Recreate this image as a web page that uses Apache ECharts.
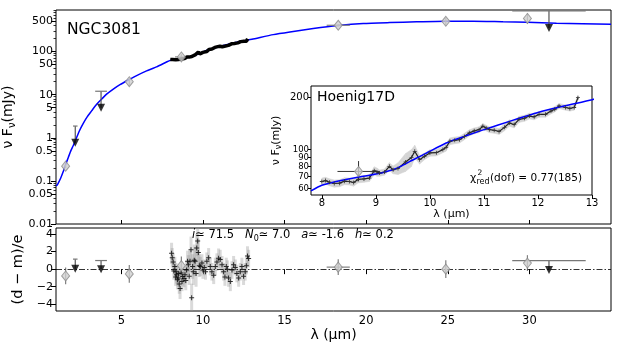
<!DOCTYPE html>
<html><head><meta charset="utf-8">
<script src="https://cdn.jsdelivr.net/npm/echarts@6/dist/echarts.min.js"></script>
<style>html,body{margin:0;padding:0;background:#fff}#c{width:623px;height:346px}</style>
</head><body><div id="c"></div>
<script>
const FONT = 'DejaVu Sans';

// ---- model SED (blue curve) ----
const modelX = [1.0, 1.07, 1.14, 1.29, 1.45, 1.59, 1.76, 1.90, 2.06, 2.22, 2.43, 2.67, 2.92, 3.18, 3.49, 3.80, 4.10, 4.51, 4.92, 5.43, 5.94, 6.55, 7.16, 7.8, 8.0, 8.4, 9.0, 9.2, 9.4, 9.52, 9.63, 9.82, 10.0, 10.3, 10.5, 11.0, 11.5, 12.0, 12.5, 13.0, 14.31, 15.33, 16.76, 18.29, 19.82, 21.45, 23.09, 24.88, 26.55, 28.39, 29.88, 31.66, 35.0];
const modelY = [0.077, 0.080, 0.089, 0.117, 0.167, 0.239, 0.355, 0.49, 0.66, 0.92, 1.44, 2.17, 3.1, 4.2, 6.0, 7.9, 10.3, 13.5, 17.1, 21.9, 27.7, 35.6, 44.2, 58, 62.5, 67, 72.5, 75, 78.5, 82, 85.7, 91.4, 97.8, 109, 115, 130, 146, 163, 178, 193, 247, 285, 341, 400, 446, 470, 490, 505, 505, 490, 480, 454, 428];

// ---- mid-IR spectrum ----
const specX = [8.00, 8.07, 8.14, 8.23, 8.33, 8.42, 8.51, 8.59, 8.67, 8.78, 8.88, 8.97, 9.02, 9.07, 9.16, 9.25, 9.32, 9.41, 9.55, 9.66, 9.72, 9.81, 9.90, 10.00, 10.12, 10.24, 10.30, 10.37, 10.46, 10.55, 10.64, 10.73, 10.82, 10.91, 10.98, 11.04, 11.10, 11.19, 11.28, 11.38, 11.47, 11.56, 11.65, 11.75, 11.84, 11.93, 12.02, 12.14, 12.24, 12.31, 12.39, 12.51, 12.59, 12.67, 12.74];
const specY = [65.7, 66.5, 65.1, 64.0, 64.3, 66.0, 65.7, 64.8, 67.5, 68.0, 68.7, 75.7, 74.5, 73.4, 74.4, 80.2, 76.7, 78, 85, 90, 97.8, 87.6, 91.5, 95.7, 96, 100, 103, 111.6, 113, 114, 119, 124.7, 128, 130, 136, 133, 130, 129, 127, 134, 142, 139, 149, 151, 155.5, 154, 159, 159, 166, 170, 177.6, 174, 172, 174, 198];
const specErr = [3, 3, 3, 3, 3, 3, 3, 3, 3, 3, 3, 4, 4, 3, 3, 4, 4, 6, 10, 10, 8, 5, 4, 4, 4, 4, 5, 5, 5, 5, 5, 5, 5, 5, 5, 5, 5, 5, 5, 6, 6, 6, 6, 6, 6, 6, 6, 6, 6, 6, 6, 6, 6, 6, 6];

// ---- photometry ----
const photX = [1.59, 5.49, 8.68, 18.29, 24.88, 29.88];
const photY = [0.22, 20, 75, 407, 503, 585];
const photYLo = [0.2, 16, 66, 380, 400, 440];
const photYHi = [0.24, 24, 86, 430, 600, 760];
const photXErr = [0, 0, 0.39, 0.71, 0, 0];

// ---- upper limits ----
const ulX = [2.18, 3.76, 31.2];
const ulY = [0.77, 5.0, 353];
const ulCap = [1.87, 12, 880];
const ulCapHalf = [0.14, 0.36, 2.25];

// ---- residuals ----
const residPhotY = [-0.77, -0.54, 0.4, 0.23, 0.0, 0.69];
const residPhotErr = [0.95, 1.0, 1.05, 0.9, 1.0, 0.9];
const residUlY = [0.05, 0.0, -0.1];
const residUlCap = [1.14, 0.98, 0.98];
const residX = [8.08, 8.12, 8.18, 8.22, 8.28, 8.33, 8.35, 8.39, 8.44, 8.49, 8.52, 8.55, 8.6, 8.66, 8.72, 8.76, 8.84, 8.9, 8.95, 9.0, 9.06, 9.11, 9.16, 9.21, 9.27, 9.31, 9.37, 9.41, 9.47, 9.52, 9.58, 9.62, 9.68, 9.72, 9.78, 9.84, 9.94, 10.0, 10.08, 10.16, 10.24, 10.35, 10.45, 10.55, 10.66, 10.76, 10.86, 10.96, 11.06, 11.17, 11.27, 11.35, 11.43, 11.5, 11.57, 11.68, 11.78, 11.88, 11.98, 12.08, 12.19, 12.29, 12.39, 12.49, 12.59, 12.66, 12.73, 12.8];
const residY = [1.8, 1.3, 0.8, -0.2, 0.3, -0.9, -0.3, -0.65, -1.2, -1.0, -0.5, -1.7, -2.2, -0.45, -1.4, -0.85, -1.05, -0.65, -1.3, -0.1, 0.9, 0.5, -0.8, 0.9, 2.2, -3.25, 0.3, -0.3, 1.0, 0.9, -0.5, 2.4, 3.2, 1.9, 0.4, 0.3, 0.7, -0.1, 0.2, -0.3, 0.9, 1.3, 0.3, -0.3, -0.7, 0.3, 0.8, 1.25, 1.1, 0.5, -0.3, -0.9, 0.3, 0.0, -1.0, -1.4, -0.1, 0.5, 0.2, -0.5, -1.0, -0.3, 0.3, -0.8, -0.3, 0.4, 1.5, 1.2];
const residErr = [1.2, 1.1, 1.0, 1.0, 1.1, 1.0, 1.0, 1.0, 1.1, 1.0, 1.0, 1.1, 1.2, 1.0, 1.1, 1.0, 1.0, 1.0, 1.1, 1.0, 1.2, 1.1, 1.0, 1.2, 1.5, 1.6, 1.4, 1.5, 1.8, 1.6, 1.5, 1.6, 1.7, 1.5, 1.3, 1.1, 1.0, 1.0, 0.9, 0.9, 1.0, 1.1, 1.0, 1.0, 1.0, 1.0, 1.0, 1.1, 1.1, 1.0, 1.0, 1.0, 1.0, 1.0, 1.0, 1.1, 1.0, 1.0, 0.9, 1.0, 1.0, 1.0, 1.0, 1.0, 1.0, 1.0, 1.1, 1.0];

// ---- ticks ----
const xTicks = [5, 10, 15, 20, 25, 30];
const yTickVals = [0.01, 0.05, 0.1, 0.5, 1, 5, 10, 50, 100, 500];
const yTickLabels = ['0.01', '0.05', '0.1', '0.5', '1', '5', '10', '50', '100', '500'];
const yMinorTicks = [0.02, 0.03, 0.04, 0.06, 0.07, 0.08, 0.09, 0.2, 0.3, 0.4, 0.6, 0.7, 0.8, 0.9, 2, 3, 4, 6, 7, 8, 9, 20, 30, 40, 60, 70, 80, 90, 200, 300, 400, 600, 700, 800, 900];
const residTicks = [-4, -2, 0, 2, 4];
const insetXTicks = [8, 9, 10, 11, 12, 13];
const insetYTicks = [60, 70, 80, 90, 100, 200];

function lbl(v, vals, labs) {
  for (let i = 0; i < vals.length; i++) if (Math.abs(v - vals[i]) <= 1e-6 * Math.abs(vals[i]) + 1e-9) return labs[i];
  return '';
}

function segRender(color, width) {
  return function (params, api) {
    const p0 = api.coord([api.value(0), api.value(1)]);
    const p1 = api.coord([api.value(2), api.value(3)]);
    return { type: 'line', shape: { x1: p0[0], y1: p0[1], x2: p1[0], y2: p1[1] }, style: { stroke: color, lineWidth: width } };
  };
}
function segSeries(name, xi, yi, data, color, width, z) {
  return { name: name, type: 'custom', xAxisIndex: xi, yAxisIndex: yi, data: data, renderItem: segRender(color, width),
    encode: { x: [0, 2], y: [1, 3] }, z: z, silent: true, clip: true };
}

// build data
const modelData = modelX.map((x, i) => [x, modelY[i]]);
const specData = specX.map((x, i) => [x, specY[i]]);
const photData = photX.map((x, i) => [x, photY[i]]);
const ulData = ulX.map((x, i) => [x, ulY[i]]);
const photVErr = photX.map((x, i) => [x, photYLo[i], x, photYHi[i]]);
const photHErr = photX.map((x, i) => [x - photXErr[i], photY[i], x + photXErr[i], photY[i]]).filter((d, i) => photXErr[i] > 0);
const ulStem = ulX.map((x, i) => [x, ulY[i], x, ulCap[i]]);
const ulCapSeg = ulX.map((x, i) => [x - ulCapHalf[i], ulCap[i], x + ulCapHalf[i], ulCap[i]]);

const rPhotData = photX.map((x, i) => [x, residPhotY[i]]);
const rPhotVErr = photX.map((x, i) => [x, residPhotY[i] - residPhotErr[i], x, residPhotY[i] + residPhotErr[i]]);
const rPhotHErr = photX.map((x, i) => [x - photXErr[i], residPhotY[i], x + photXErr[i], residPhotY[i]]).filter((d, i) => photXErr[i] > 0.5);
const rUlData = ulX.map((x, i) => [x, residUlY[i]]);
const rUlStem = ulX.map((x, i) => [x, residUlY[i], x, residUlCap[i]]);
const rUlCap = ulX.map((x, i) => [x - ulCapHalf[i], residUlCap[i], x + ulCapHalf[i], residUlCap[i]]);
const rSpecData = residX.map((x, i) => [x, residY[i]]);
const rSpecErr = residX.map((x, i) => { const e = residErr[i] || 1; return [x, residY[i] - e, x, residY[i] + e]; });

const inIdx = photX.map((x, i) => i).filter(i => photX[i] >= 7.8 && photX[i] <= 13);
const inPhot = inIdx.map(i => [photX[i], photY[i]]);
const inPhotV = inIdx.map(i => [photX[i], photYLo[i], photX[i], photYHi[i]]);
const inPhotH = inIdx.map(i => [photX[i] - photXErr[i], photY[i], photX[i] + photXErr[i], photY[i]]);
const inModel = modelData.filter(d => d[0] >= 7.8 && d[0] <= 14.5);
const bandData = [];
for (let i = 0; i < specX.length - 1; i++) {
  bandData.push([specX[i], specY[i] - specErr[i], specY[i] + specErr[i], specX[i + 1], specY[i + 1] - specErr[i + 1], specY[i + 1] + specErr[i + 1]]);
}

const PLUS = 'path://M4,0H6V4H10V6H6V10H4V6H0V4H4Z';
const tickStyle = { color: '#000', width: 1 };

const option = {
  animation: false,
  backgroundColor: '#fff',
  textStyle: { fontFamily: FONT },
  grid: [
    { left: 56, top: 10, width: 555, height: 214, show: true, borderColor: '#000', borderWidth: 1, backgroundColor: 'transparent', containLabel: false, outerBoundsMode: 'none' },
    { left: 56, top: 228, width: 555, height: 83, show: true, borderColor: '#000', borderWidth: 1, backgroundColor: 'transparent', containLabel: false, outerBoundsMode: 'none' },
    { left: 311, top: 86, width: 281, height: 109, show: true, borderColor: '#000', borderWidth: 1, backgroundColor: '#fff', z: 5, containLabel: false, outerBoundsMode: 'none' }
  ],
  xAxis: [
    { gridIndex: 0, type: 'value', min: 1, max: 35, axisLine: { show: false }, splitLine: { show: false },
      axisTick: { show: true, inside: true, length: 4, customValues: xTicks, lineStyle: tickStyle }, axisLabel: { show: false } },
    { gridIndex: 1, type: 'value', min: 1, max: 35, axisLine: { show: false }, splitLine: { show: false },
      axisTick: { show: true, inside: false, length: 5, customValues: xTicks, lineStyle: tickStyle },
      axisLabel: { show: true, customValues: xTicks, fontSize: 11.5, color: '#000', fontFamily: FONT, margin: 4 },
      name: 'λ (μm)', nameLocation: 'middle', nameGap: 16, nameTextStyle: { fontSize: 14, color: '#000', fontFamily: FONT } },
    { gridIndex: 2, type: 'value', min: 7.8, max: 13, z: 8, axisLine: { show: false }, splitLine: { show: false },
      axisTick: { show: true, inside: false, length: 4, customValues: insetXTicks, lineStyle: tickStyle },
      axisLabel: { show: true, customValues: insetXTicks, fontSize: 10, color: '#000', fontFamily: FONT, margin: 3 },
      name: 'λ (μm)', nameLocation: 'middle', nameGap: 12, nameTextStyle: { fontSize: 11, color: '#000', fontFamily: FONT } }
  ],
  yAxis: [
    { gridIndex: 0, type: 'log', position: 'left', min: 0.01, max: 920, axisLine: { show: false }, splitLine: { show: false },
      axisTick: { show: true, inside: false, length: 5, customValues: yTickVals, lineStyle: tickStyle },
      axisLabel: { show: true, customValues: yTickVals, fontSize: 11, color: '#000', fontFamily: FONT, margin: 3,
        formatter: v => lbl(v, yTickVals, yTickLabels) },
      name: '{a|ν F}{s|ν}{a|(mJy)}', nameLocation: 'middle', nameGap: 33, nameRotate: 90,
      nameTextStyle: { color: '#000', fontFamily: FONT, rich: { a: { fontSize: 14, fontFamily: FONT, color: '#000', lineHeight: 18 }, s: { fontSize: 10, fontFamily: FONT, color: '#000', verticalAlign: 'bottom', lineHeight: 18 } } } },
    { gridIndex: 0, type: 'log', position: 'left', min: 0.01, max: 920, axisLine: { show: false }, splitLine: { show: false },
      axisTick: { show: true, inside: false, length: 2.5, customValues: yMinorTicks, lineStyle: { color: '#000', width: 0.8 } },
      axisLabel: { show: false } },
    { gridIndex: 1, type: 'value', min: -4.76, max: 4.68, axisLine: { show: false }, splitLine: { show: false },
      axisTick: { show: true, inside: false, length: 5, customValues: residTicks, lineStyle: tickStyle },
      axisLabel: { show: true, customValues: residTicks, fontSize: 11, color: '#000', fontFamily: FONT, margin: 3,
        formatter: v => String(Math.round(v)).replace('-', '\u2212') },
      name: '(d \u2212 m)/e', nameLocation: 'middle', nameGap: 24, nameRotate: 90, nameTextStyle: { fontSize: 14.5, color: '#000', fontFamily: FONT } },
    { gridIndex: 2, type: 'log', position: 'left', min: 55, max: 231, z: 8, axisLine: { show: false }, splitLine: { show: false },
      axisTick: { show: true, inside: false, length: 3, customValues: insetYTicks, lineStyle: tickStyle },
      axisLabel: { show: true, customValues: insetYTicks, color: '#000', fontFamily: FONT, margin: 2,
        formatter: v => (Math.round(v) === 200 ? '{b|200}' : '{s|' + Math.round(v) + '}'),
        rich: { b: { fontSize: 10, fontFamily: FONT, color: '#000' }, s: { fontSize: 8.5, fontFamily: FONT, color: '#000' } } },
      name: '{a|ν F}{s|ν}{a|(mJy)}', nameLocation: 'middle', nameGap: 28, nameRotate: 90,
      nameTextStyle: { color: '#000', fontFamily: FONT, rich: { a: { fontSize: 11, fontFamily: FONT, color: '#000', lineHeight: 14 }, s: { fontSize: 8, fontFamily: FONT, color: '#000', verticalAlign: 'bottom', lineHeight: 14 } } } }
  ],
  series: [
    // ---- main panel ----
    { type: 'line', xAxisIndex: 0, yAxisIndex: 0, data: modelData, showSymbol: false, smooth: 0.2,
      lineStyle: { color: '#0000ff', width: 1.5 }, z: 2, silent: true },
    { type: 'line', xAxisIndex: 0, yAxisIndex: 0, data: specData, showSymbol: false,
      lineStyle: { color: '#000', width: 3.5 }, z: 3, silent: true },
    segSeries('pv', 0, 0, photVErr, '#808080', 1.2, 3),
    segSeries('ph', 0, 0, photHErr, '#808080', 1.2, 3),
    segSeries('us', 0, 0, ulStem, '#555', 1.2, 3),
    segSeries('uc', 0, 0, ulCapSeg, '#777', 1.2, 3),
    { type: 'scatter', xAxisIndex: 0, yAxisIndex: 0, data: photData, symbol: 'diamond', symbolSize: [8, 10],
      itemStyle: { color: '#cfcfcf', borderColor: '#8a8a8a', borderWidth: 1 }, z: 4, silent: true },
    { type: 'scatter', xAxisIndex: 0, yAxisIndex: 0, data: ulData, symbol: 'triangle', symbolRotate: 180, symbolSize: [8, 8],
      itemStyle: { color: '#000' }, z: 4, silent: true },
    // ---- residual panel ----
    segSeries('rse', 1, 2, rSpecErr, 'rgba(150,150,150,0.35)', 3, 2),
    { type: 'scatter', xAxisIndex: 1, yAxisIndex: 2, data: rSpecData, symbol: PLUS, symbolSize: 5,
      itemStyle: { color: '#000' }, z: 4, silent: true,
      markLine: { silent: true, symbol: 'none', label: { show: false }, animation: false,
        lineStyle: { color: '#000', width: 0.8, type: [6, 2, 1.5, 2] }, data: [{ yAxis: 0 }] } },
    segSeries('rpv', 1, 2, rPhotVErr, '#808080', 1.2, 3),
    segSeries('rph', 1, 2, rPhotHErr, '#808080', 1.2, 3),
    segSeries('rus', 1, 2, rUlStem, '#555', 1.2, 3),
    segSeries('ruc', 1, 2, rUlCap, '#777', 1.2, 3),
    { type: 'scatter', xAxisIndex: 1, yAxisIndex: 2, data: rPhotData, symbol: 'diamond', symbolSize: [8, 10],
      itemStyle: { color: '#cfcfcf', borderColor: '#8a8a8a', borderWidth: 1 }, z: 5, silent: true },
    { type: 'scatter', xAxisIndex: 1, yAxisIndex: 2, data: rUlData, symbol: 'triangle', symbolRotate: 180, symbolSize: [8, 8],
      itemStyle: { color: '#000' }, z: 5, silent: true },
    // ---- inset ----
    { type: 'custom', xAxisIndex: 2, yAxisIndex: 3, data: bandData, encode: { x: [0, 3], y: [1, 2, 4, 5] }, z: 6, silent: true, clip: true,
      renderItem: function (params, api) {
        const a = api.coord([api.value(0), api.value(1)]);
        const b = api.coord([api.value(3), api.value(4)]);
        const c = api.coord([api.value(3), api.value(5)]);
        const d = api.coord([api.value(0), api.value(2)]);
        return { type: 'polygon', shape: { points: [a, b, c, d] }, style: { fill: '#d4d4d4', stroke: '#d4d4d4', lineWidth: 0.5 } };
      } },
    { type: 'line', xAxisIndex: 2, yAxisIndex: 3, data: specData, symbol: PLUS, symbolSize: 4, showSymbol: true,
      lineStyle: { color: '#222', width: 1.2 }, itemStyle: { color: '#333' }, z: 7, silent: true },
    { type: 'line', xAxisIndex: 2, yAxisIndex: 3, data: inModel, showSymbol: false, smooth: 0.2,
      lineStyle: { color: '#0000ff', width: 1.5 }, z: 7, silent: true },
    segSeries('ipv', 2, 3, inPhotV, '#333', 1, 7),
    segSeries('iph', 2, 3, inPhotH, '#333', 1, 7),
    { type: 'scatter', xAxisIndex: 2, yAxisIndex: 3, data: inPhot, symbol: 'diamond', symbolSize: [8, 10],
      itemStyle: { color: '#cfcfcf', borderColor: '#8a8a8a', borderWidth: 1 }, z: 8, silent: true }
  ],
  graphic: [
    { type: 'text', x: 67, y: 30, z: 20, silent: true, style: { text: 'NGC3081', fontSize: 15.5, fontFamily: FONT, fill: '#000', verticalAlign: 'middle', align: 'left' } },
    { type: 'text', x: 317, y: 97, z: 20, silent: true, style: { text: 'Hoenig17D', fontSize: 14, fontFamily: FONT, fill: '#000', verticalAlign: 'middle', align: 'left' } },
    { type: 'text', x: 192, y: 235, z: 20, silent: true, style: {
        text: '{it|i}≃ 71.5   {it|N}{sub|0}≃ 7.0   {it|a}≃ -1.6   {it|h}≃ 0.2',
        fontSize: 11.5, fontFamily: FONT, fill: '#000', verticalAlign: 'middle', align: 'left',
        rich: { it: { fontStyle: 'italic', fontSize: 11.5, fontFamily: FONT, lineHeight: 15 }, sub: { fontSize: 8, fontFamily: FONT, verticalAlign: 'bottom', lineHeight: 15 } } } },
    { type: 'text', x: 470, y: 178, z: 20, silent: true, style: { text: 'χ', fontSize: 11, fontFamily: FONT, fill: '#000', verticalAlign: 'middle', align: 'left' } },
    { type: 'text', x: 477.5, y: 173.5, z: 20, silent: true, style: { text: '2', fontSize: 7.5, fontFamily: FONT, fill: '#000', verticalAlign: 'middle', align: 'left' } },
    { type: 'text', x: 476.5, y: 181.5, z: 20, silent: true, style: { text: 'red', fontSize: 8, fontFamily: FONT, fill: '#000', verticalAlign: 'middle', align: 'left' } },
    { type: 'text', x: 490, y: 178, z: 20, silent: true, style: { text: '(dof) = 0.77(185)', fontSize: 10.5, fontFamily: FONT, fill: '#000', verticalAlign: 'middle', align: 'left' } }
  ]
};

const chart = echarts.init(document.getElementById('c'), null, { renderer: 'canvas', width: 623, height: 346 });
chart.setOption(option);
</script>
</body></html>
